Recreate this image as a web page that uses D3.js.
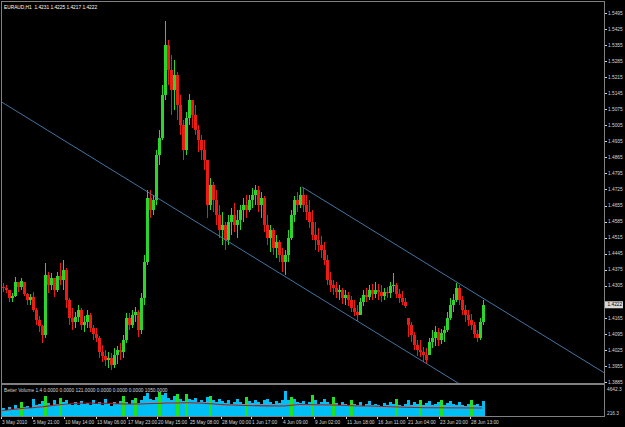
<!DOCTYPE html>
<html>
<head>
<meta charset="utf-8">
<script src="https://cdn.jsdelivr.net/npm/d3@7"></script>
<style>
  html, body { margin: 0; padding: 0; background: #000; }
  svg { display: block; }
  text { font-family: "Liberation Sans", Arial, sans-serif; }
</style>
</head>
<body>
<div id="chart"></div>
<script>
const width = 625;
const height = 427;

const symbolTitle = "EURAUD,H1  1.4231 1.4225 1.4217 1.4222";
const volumeTitle = "Better Volume 1.4 0.0000 0.0000 121.0000 0.0000 0.0000 0.0000 1050.0000";
const lastPrice = 1.4222;
const firstOpen = 1.4300;

const priceTicks = [1.5495, 1.5425, 1.5355, 1.5285, 1.5215, 1.5145, 1.5075, 1.5005,
  1.4935, 1.4865, 1.4795, 1.4725, 1.4655, 1.4585, 1.4515, 1.4445, 1.4375, 1.4305,
  1.4235, 1.4165, 1.4095, 1.4025, 1.3955, 1.3885];

const volTicks = [4642.3, 216.3];

const timeLabels = ["3 May 2010", "5 May 21:00", "10 May 14:00", "13 May 06:00", "17 May 23:00",
  "20 May 15:00", "25 May 08:00", "28 May 00:00", "1 Jun 17:00", "4 Jun 09:00", "9 Jun 02:00",
  "11 Jun 18:00", "16 Jun 11:00", "21 Jun 04:00", "23 Jun 20:00", "28 Jun 13:00"];
const timeLabelBars = [-0.3, 10, 20.7, 31.3, 41.7, 51.7, 62.3, 73, 83, 93.3, 104, 114.7, 125, 135, 145.7, 156];

// one candle per column
const highs = [
  1.4317,1.4308,1.4286,1.4273,1.4343,1.4322,1.4339,1.4322,1.4273,1.4269,
  1.4278,1.4208,1.4173,1.4134,1.4404,1.4365,1.4361,1.4339,1.4365,1.4404,
  1.4417,1.4382,1.4251,1.4208,1.4190,1.4221,1.4208,1.4173,1.4199,1.4186,
  1.4134,1.4121,1.4086,1.4047,1.4025,1.4016,1.4012,1.4033,1.4042,1.4055,
  1.4090,1.4186,1.4186,1.4199,1.4212,1.4199,1.4273,1.4439,1.4723,1.4723,
  1.4701,1.4897,1.4984,1.5181,1.5460,1.5377,1.5312,1.5290,1.5238,1.5137,
  1.5028,1.5063,1.5142,1.5115,1.5094,1.5006,1.4963,1.4941,1.4854,1.4775,
  1.4758,1.4723,1.4657,1.4627,1.4583,1.4614,1.4644,1.4666,1.4635,1.4657,
  1.4688,1.4701,1.4701,1.4731,1.4745,1.4740,1.4714,1.4697,1.4614,1.4570,
  1.4557,1.4526,1.4505,1.4470,1.4461,1.4548,1.4635,1.4697,1.4714,1.4736,
  1.4731,1.4701,1.4679,1.4635,1.4583,1.4557,1.4522,1.4496,1.4439,1.4365,
  1.4330,1.4322,1.4308,1.4295,1.4286,1.4278,1.4260,1.4243,1.4221,1.4251,
  1.4286,1.4295,1.4308,1.4313,1.4322,1.4313,1.4308,1.4295,1.4300,1.4322,
  1.4361,1.4317,1.4291,1.4282,1.4251,1.4164,1.4147,1.4103,1.4068,1.4068,
  1.4038,1.4033,1.4077,1.4112,1.4129,1.4121,1.4116,1.4129,1.4190,1.4251,
  1.4269,1.4317,1.4308,1.4260,1.4221,1.4199,1.4182,1.4147,1.4112,1.4164,
  1.4243
];
const lows = [
  1.4278,1.4273,1.4234,1.4234,1.4256,1.4278,1.4286,1.4260,1.4221,1.4221,
  1.4190,1.4134,1.4103,1.4055,1.4077,1.4273,1.4286,1.4256,1.4278,1.4308,
  1.4286,1.4208,1.4134,1.4112,1.4121,1.4147,1.4112,1.4103,1.4121,1.4103,
  1.4068,1.4060,1.3990,1.3972,1.3955,1.3946,1.3938,1.3946,1.3964,1.3981,
  1.3990,1.4055,1.4112,1.4121,1.4147,1.4081,1.4094,1.4221,1.4396,1.4601,
  1.4614,1.4657,1.4832,1.4941,1.5115,1.5181,1.5050,1.5072,1.5028,1.4963,
  1.4854,1.4875,1.5006,1.4993,1.4963,1.4888,1.4854,1.4810,1.4601,1.4635,
  1.4627,1.4570,1.4513,1.4483,1.4461,1.4483,1.4526,1.4539,1.4513,1.4548,
  1.4583,1.4601,1.4627,1.4644,1.4657,1.4627,1.4601,1.4539,1.4483,1.4452,
  1.4439,1.4426,1.4409,1.4365,1.4352,1.4409,1.4505,1.4583,1.4627,1.4644,
  1.4627,1.4592,1.4557,1.4505,1.4461,1.4452,1.4426,1.4396,1.4308,1.4278,
  1.4264,1.4251,1.4243,1.4225,1.4221,1.4217,1.4190,1.4173,1.4151,1.4177,
  1.4217,1.4234,1.4243,1.4243,1.4251,1.4243,1.4234,1.4243,1.4251,1.4251,
  1.4278,1.4251,1.4230,1.4221,1.4208,1.4081,1.4060,1.4025,1.3998,1.3994,
  1.3972,1.3964,1.4003,1.4033,1.4042,1.4042,1.4051,1.4060,1.4103,1.4156,
  1.4190,1.4234,1.4221,1.4177,1.4147,1.4129,1.4112,1.4077,1.4060,1.4068,
  1.4134
];
const closes = [
  1.4295,1.4286,1.4251,1.4260,1.4322,1.4300,1.4326,1.4269,1.4243,1.4256,
  1.4199,1.4156,1.4129,1.4090,1.4352,1.4308,1.4339,1.4286,1.4347,1.4330,
  1.4374,1.4243,1.4164,1.4147,1.4169,1.4199,1.4134,1.4147,1.4177,1.4121,
  1.4094,1.4077,1.4016,1.3998,1.3981,1.3990,1.3959,1.4003,1.4025,1.4016,
  1.4068,1.4164,1.4134,1.4177,1.4190,1.4112,1.4251,1.4409,1.4688,1.4635,
  1.4679,1.4875,1.4950,1.5137,1.5355,1.5246,1.5159,1.5224,1.5094,1.5006,
  1.4897,1.5037,1.5115,1.5050,1.4984,1.4941,1.4897,1.4854,1.4657,1.4745,
  1.4679,1.4614,1.4548,1.4570,1.4505,1.4583,1.4614,1.4570,1.4592,1.4635,
  1.4657,1.4635,1.4679,1.4701,1.4723,1.4657,1.4688,1.4570,1.4513,1.4548,
  1.4470,1.4496,1.4439,1.4409,1.4439,1.4513,1.4614,1.4679,1.4657,1.4701,
  1.4657,1.4627,1.4583,1.4526,1.4505,1.4483,1.4461,1.4417,1.4330,1.4308,
  1.4295,1.4278,1.4286,1.4251,1.4264,1.4243,1.4208,1.4190,1.4177,1.4234,
  1.4264,1.4256,1.4286,1.4269,1.4286,1.4278,1.4260,1.4278,1.4273,1.4304,
  1.4308,1.4269,1.4251,1.4234,1.4217,1.4134,1.4090,1.4047,1.4025,1.4016,
  1.4003,1.3981,1.4060,1.4077,1.4103,1.4068,1.4099,1.4112,1.4164,1.4221,
  1.4243,1.4295,1.4243,1.4199,1.4177,1.4156,1.4134,1.4094,1.4077,1.4147,
  1.4222
];

const volumes = [
  1300,1100,1500,1200,1900,1400,2300,1500,1700,1300,
  2900,1800,2100,2500,3400,2200,1900,2600,2000,3000,
  2400,2700,2100,1800,2300,1900,2500,2000,2200,1800,
  2600,2100,2400,1900,2800,2200,1700,2300,2000,2500,
  3300,2400,2100,2700,3000,2200,2600,3400,3800,2900,
  2600,3100,4000,3500,3900,3000,2700,3300,3600,2800,
  2500,3700,2900,2600,3000,2400,2700,2300,3200,3400,
  2600,2300,2800,2500,2200,2600,2100,2400,2900,2300,
  2000,3200,2500,2200,2700,2300,2000,2600,2900,2400,
  2100,2500,2200,2700,4200,2600,3100,2800,2400,2200,
  2500,2000,2300,3500,2600,2100,2400,2800,2300,2000,
  3200,2200,1900,2400,2000,1800,2700,2100,1900,2300,
  1700,2000,2500,1800,2100,1900,1700,2200,1800,2400,
  2000,2900,1900,1700,2100,2600,1800,2300,2000,2700,
  1900,2200,2500,1800,2000,2400,2700,1900,2200,2500,
  2100,1800,2300,1900,1700,2100,2600,1800,2000,1700,
  2500
];
const climaxBars = [6, 14, 19, 40, 44, 52, 58, 61, 69, 81, 96, 103, 110, 116, 131, 139, 146, 156];

const volAverage = [
  {bar: -0.3, vol: 954}, {bar: 4.7, vol: 1200}, {bar: 13.3, vol: 1577}, {bar: 18, vol: 1855},
  {bar: 28, vol: 2183}, {bar: 43.3, vol: 2019}, {bar: 54.7, vol: 2183}, {bar: 61.3, vol: 2232},
  {bar: 76.7, vol: 1855}, {bar: 93.3, vol: 1691}, {bar: 99, vol: 1937}, {bar: 121.3, vol: 1691},
  {bar: 143.3, vol: 1413}, {bar: 159.7, vol: 1364}
];

const lowerChannel = [{bar: 0, price: 1.5103}, {bar: 150, price: 1.3894}];
const upperChannel = [{bar: 99.7, price: 1.4736}, {bar: 150, price: 1.4331}];

const candles = closes.map((c, i) => {
  const prev = i === 0 ? firstOpen : closes[i - 1];
  const o = Math.min(highs[i], Math.max(lows[i], prev));
  return {i, o, h: highs[i], l: lows[i], c};
});

const x = d3.scaleLinear().domain([0, 160]).range([3, 483]);
const y = d3.scaleLinear().domain([1.3885, 1.5495]).range([382, 13]);
const yVol = d3.scaleLinear().domain([216.3, 4642.3]).range([415, 388]);

const frame = "#808080";
const labelColor = "#d4d4d4";
const upColor = "#2bd62b";
const downColor = "#ec1c14";
const fs = 4.8;

const svg = d3.select("#chart")
  .append("svg")
  .attr("width", width)
  .attr("height", height)
  .style("background", "#000");

const defs = svg.append("defs");
defs.append("clipPath").attr("id", "main-clip")
  .append("rect").attr("x", 2).attr("y", 2).attr("width", 602).attr("height", 381.5);
defs.append("clipPath").attr("id", "vol-clip")
  .append("rect").attr("x", 2).attr("y", 386).attr("width", 602).attr("height", 30);

// candles
const candleLayer = svg.append("g")
  .attr("clip-path", "url(#main-clip)")
  .attr("shape-rendering", "crispEdges");

candleLayer.selectAll("rect.wick")
  .data(candles)
  .join("rect")
    .attr("class", "wick")
    .attr("x", d => x(d.i) - 0.5)
    .attr("width", 1)
    .attr("y", d => y(d.h))
    .attr("height", d => Math.max(1, y(d.l) - y(d.h)))
    .attr("fill", d => d.c >= d.o ? upColor : downColor);

candleLayer.selectAll("rect.body")
  .data(candles)
  .join("rect")
    .attr("class", "body")
    .attr("x", d => x(d.i) - 1.5)
    .attr("width", 3)
    .attr("y", d => y(Math.max(d.o, d.c)))
    .attr("height", d => Math.max(1, Math.abs(y(d.o) - y(d.c))))
    .attr("fill", d => d.c >= d.o ? upColor : downColor);

// channel rays
function rayPoints(pts, fromBar, toBar) {
  const slope = (pts[1].price - pts[0].price) / (pts[1].bar - pts[0].bar);
  return [fromBar, toBar].map(b => [x(b), y(pts[0].price + slope * (b - pts[0].bar))]);
}

const lineLayer = svg.append("g").attr("clip-path", "url(#main-clip)");
lineLayer.append("path")
  .attr("d", d3.line()(rayPoints(lowerChannel, -2, 220)))
  .attr("fill", "none").attr("stroke", "#4a80b4").attr("stroke-width", 0.9);
lineLayer.append("path")
  .attr("d", d3.line()(rayPoints(upperChannel, upperChannel[0].bar, 220)))
  .attr("fill", "none").attr("stroke", "#4a80b4").attr("stroke-width", 0.9);

// volume panel
const volLayer = svg.append("g")
  .attr("clip-path", "url(#vol-clip)")
  .attr("shape-rendering", "crispEdges");

volLayer.selectAll("rect.vol")
  .data(volumes)
  .join("rect")
    .attr("class", "vol")
    .attr("x", (v, i) => x(i) - 1.5)
    .attr("width", 3)
    .attr("y", v => yVol(v))
    .attr("height", v => 417 - yVol(v))
    .attr("fill", (v, i) => climaxBars.includes(i) ? "#22e022" : "#00bff5");

svg.append("g").attr("clip-path", "url(#vol-clip)")
  .append("path")
  .attr("d", d3.line().curve(d3.curveMonotoneX).x(d => x(d.bar)).y(d => yVol(d.vol))(volAverage))
  .attr("fill", "none")
  .attr("stroke", "#c81010")
  .attr("stroke-width", 1.1);

// frame
const fr = svg.append("g").attr("shape-rendering", "crispEdges");
fr.append("rect").attr("x", 1).attr("y", 1).attr("width", 1).attr("height", 416).attr("fill", frame);
fr.append("rect").attr("x", 1).attr("y", 1).attr("width", 604).attr("height", 1).attr("fill", frame);
fr.append("rect").attr("x", 604).attr("y", 1).attr("width", 1).attr("height", 416).attr("fill", frame);
fr.append("rect").attr("x", 1).attr("y", 383).attr("width", 604).attr("height", 2).attr("fill", frame);
fr.append("rect").attr("x", 1).attr("y", 416).attr("width", 604).attr("height", 1).attr("fill", frame);

// price axis; the label under the current-price box is hidden by it, as in the terminal
const priceAxis = svg.append("g");
priceAxis.selectAll("line")
  .data(priceTicks)
  .join("line")
    .attr("x1", 605).attr("x2", 607)
    .attr("y1", d => Math.round(y(d)) + 0.5)
    .attr("y2", d => Math.round(y(d)) + 0.5)
    .attr("stroke", labelColor).attr("stroke-width", 1);
priceAxis.selectAll("text")
  .data(priceTicks.filter(d => Math.abs(y(d) - y(lastPrice)) > 6))
  .join("text")
    .attr("x", 608)
    .attr("y", d => y(d))
    .attr("dy", "0.35em")
    .attr("font-size", fs)
    .attr("fill", labelColor)
    .text(d => d.toFixed(4));

priceAxis.append("rect")
  .attr("x", 605).attr("y", y(lastPrice) - 3.5)
  .attr("width", 18).attr("height", 7)
  .attr("fill", "#d8d8d8");
priceAxis.append("text")
  .attr("x", 607.5).attr("y", y(lastPrice))
  .attr("dy", "0.35em")
  .attr("font-size", fs)
  .attr("fill", "#000")
  .text(lastPrice.toFixed(4));

// volume axis
svg.selectAll("text.vtick")
  .data(volTicks)
  .join("text")
    .attr("class", "vtick")
    .attr("x", 607)
    .attr("y", (d, i) => i === 0 ? 389.5 : 413.5)
    .attr("dy", "0.35em")
    .attr("font-size", fs)
    .attr("fill", labelColor)
    .text(d => d.toFixed(1));

// time axis
const timeAxis = svg.append("g");
timeAxis.selectAll("line")
  .data(timeLabelBars)
  .join("line")
    .attr("x1", d => Math.round(x(d)) - 0.5)
    .attr("x2", d => Math.round(x(d)) - 0.5)
    .attr("y1", 417).attr("y2", 419)
    .attr("stroke", labelColor).attr("stroke-width", 1);
timeAxis.selectAll("text")
  .data(timeLabels)
  .join("text")
    .attr("x", (d, i) => x(timeLabelBars[i]))
    .attr("y", 422)
    .attr("dy", "0.35em")
    .attr("font-size", fs)
    .attr("fill", labelColor)
    .text(d => d);

// titles
svg.append("text")
  .attr("x", 4).attr("y", 7)
  .attr("dy", "0.35em")
  .attr("font-size", fs)
  .attr("fill", "#ffffff")
  .attr("xml:space", "preserve")
  .text(symbolTitle);

svg.append("text")
  .attr("x", 4).attr("y", 390.5)
  .attr("dy", "0.35em")
  .attr("font-size", fs)
  .attr("fill", labelColor)
  .text(volumeTitle);
</script>
</body>
</html>
